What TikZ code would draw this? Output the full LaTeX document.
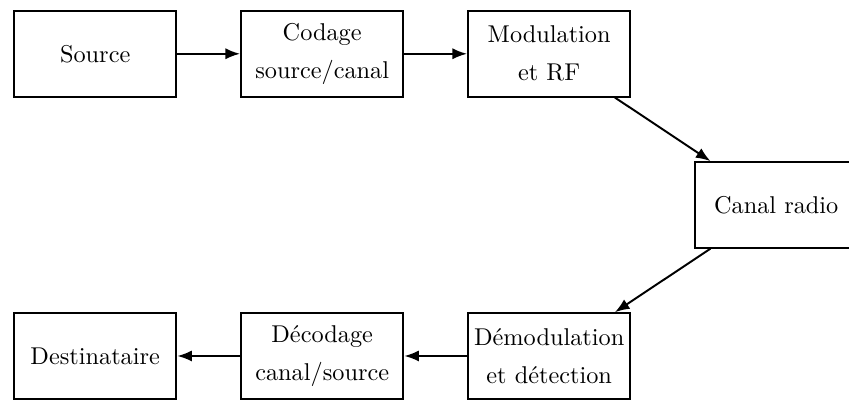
\documentclass[tikz,border=0pt]{standalone}
\usetikzlibrary{arrows.meta}
\begin{document}
\begin{tikzpicture}[x=0.4115pt,y=-0.4115pt,
  blockbox/.style={draw,line width=0.8pt,minimum width=66.8pt,minimum height=35.2pt,inner sep=1pt,align=center},
  conn/.style={line width=0.8pt,-{Latex[length=6pt,width=4.6pt]}}]
\useasboundingbox (0,0) rectangle (849,400);
\node[blockbox] (src) at (95.2,53.8) {Source};
\node[blockbox] (cod) at (322.2,53.8) {Codage\\[3.6pt]source/canal};
\node[blockbox] (mod) at (549.2,53.8) {Modulation\\[3.6pt]et RF};
\node[blockbox] (can) at (776.2,204.9) {Canal radio};
\node[blockbox] (dem) at (549.2,356) {D\'emodulation\\[3.6pt]et d\'etection};
\node[blockbox] (dec) at (322.2,356) {D\'ecodage\\[3.6pt]canal/source};
\node[blockbox] (dst) at (95.2,356) {Destinataire};
\draw[conn] (src) -- (cod);
\draw[conn] (cod) -- (mod);
\draw[conn] (mod) -- (can);
\draw[conn] (can) -- (dem);
\draw[conn] (dem) -- (dec);
\draw[conn] (dec) -- (dst);
\end{tikzpicture}
\end{document}
